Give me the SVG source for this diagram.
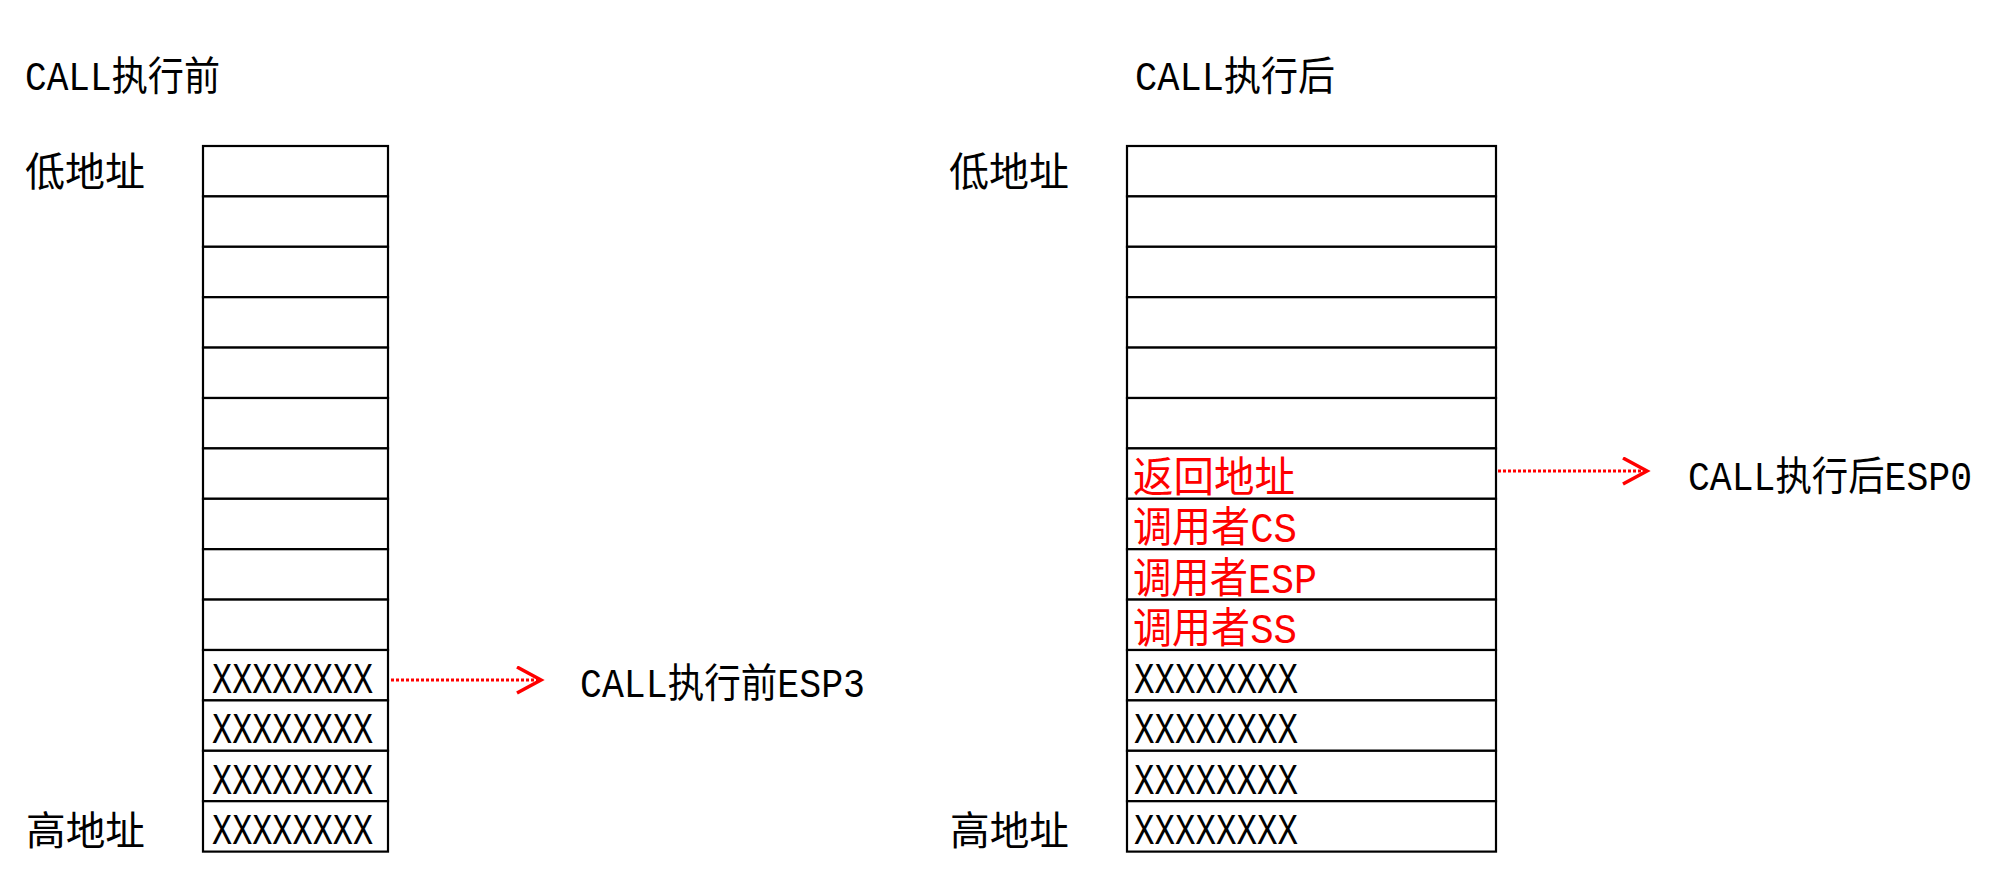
<svg xmlns="http://www.w3.org/2000/svg" width="1993" height="877" viewBox="0 0 1993 877">
<style>
text{font-family:"Liberation Mono","Noto Sans CJK SC",monospace;fill:#000;}
.t{font-size:40px;}
.x{font-size:44px;}
.r{font-size:42px;fill:#f00;}
.cell{fill:#fff;stroke:#000;stroke-width:2.2;}
.link{fill:none;stroke:#f00;stroke-width:3;stroke-dasharray:3 2;}
</style>
<defs>
<marker id="chev" markerUnits="userSpaceOnUse" markerWidth="30" markerHeight="30" refX="25" refY="14" orient="auto">
<path d="M1,1 L25,14 L1,27" fill="none" stroke="#f00" stroke-width="3.5"/>
</marker>
</defs>
<rect width="1993" height="877" fill="#fff"/>

<g id="title-before"><text class="t" x="25" y="90" textLength="195" lengthAdjust="spacingAndGlyphs">CALL执行前</text></g>
<g id="title-after"><text class="t" x="1135" y="90" textLength="200" lengthAdjust="spacingAndGlyphs">CALL执行后</text></g>
<g id="low-left"><text class="t" x="25" y="186" textLength="120" lengthAdjust="spacingAndGlyphs">低地址</text></g>
<g id="high-left"><text class="t" x="26" y="845" textLength="119" lengthAdjust="spacingAndGlyphs">高地址</text></g>
<g id="low-right"><text class="t" x="949" y="186" textLength="120" lengthAdjust="spacingAndGlyphs">低地址</text></g>
<g id="high-right"><text class="t" x="950" y="845" textLength="119" lengthAdjust="spacingAndGlyphs">高地址</text></g>

<g id="stack-before">
<rect class="cell" x="203" y="146" width="185" height="50.4"/>
<rect class="cell" x="203" y="196.4" width="185" height="50.4"/>
<rect class="cell" x="203" y="246.8" width="185" height="50.4"/>
<rect class="cell" x="203" y="297.2" width="185" height="50.4"/>
<rect class="cell" x="203" y="347.6" width="185" height="50.4"/>
<rect class="cell" x="203" y="398" width="185" height="50.4"/>
<rect class="cell" x="203" y="448.4" width="185" height="50.4"/>
<rect class="cell" x="203" y="498.8" width="185" height="50.4"/>
<rect class="cell" x="203" y="549.2" width="185" height="50.4"/>
<rect class="cell" x="203" y="599.6" width="185" height="50.4"/>
<rect class="cell" x="203" y="650" width="185" height="50.4"/>
<rect class="cell" x="203" y="700.4" width="185" height="50.4"/>
<rect class="cell" x="203" y="750.8" width="185" height="50.4"/>
<rect class="cell" x="203" y="801.2" width="185" height="50.4"/>
<text class="x" x="212" y="693" textLength="161" lengthAdjust="spacingAndGlyphs">XXXXXXXX</text>
<text class="x" x="212" y="743.4" textLength="161" lengthAdjust="spacingAndGlyphs">XXXXXXXX</text>
<text class="x" x="212" y="793.8" textLength="161" lengthAdjust="spacingAndGlyphs">XXXXXXXX</text>
<text class="x" x="212" y="844.2" textLength="161" lengthAdjust="spacingAndGlyphs">XXXXXXXX</text>
</g>

<g id="stack-after">
<rect class="cell" x="1127" y="146" width="369" height="50.4"/>
<rect class="cell" x="1127" y="196.4" width="369" height="50.4"/>
<rect class="cell" x="1127" y="246.8" width="369" height="50.4"/>
<rect class="cell" x="1127" y="297.2" width="369" height="50.4"/>
<rect class="cell" x="1127" y="347.6" width="369" height="50.4"/>
<rect class="cell" x="1127" y="398" width="369" height="50.4"/>
<rect class="cell" x="1127" y="448.4" width="369" height="50.4"/>
<rect class="cell" x="1127" y="498.8" width="369" height="50.4"/>
<rect class="cell" x="1127" y="549.2" width="369" height="50.4"/>
<rect class="cell" x="1127" y="599.6" width="369" height="50.4"/>
<rect class="cell" x="1127" y="650" width="369" height="50.4"/>
<rect class="cell" x="1127" y="700.4" width="369" height="50.4"/>
<rect class="cell" x="1127" y="750.8" width="369" height="50.4"/>
<rect class="cell" x="1127" y="801.2" width="369" height="50.4"/>
<text class="r" x="1133" y="492" textLength="162" lengthAdjust="spacingAndGlyphs">返回地址</text>
<text class="r" x="1133" y="542.4" textLength="164" lengthAdjust="spacingAndGlyphs">调用者CS</text>
<text class="r" x="1133" y="592.8" textLength="184" lengthAdjust="spacingAndGlyphs">调用者ESP</text>
<text class="r" x="1133" y="643.2" textLength="164" lengthAdjust="spacingAndGlyphs">调用者SS</text>
<text class="x" x="1134" y="693" textLength="164" lengthAdjust="spacingAndGlyphs">XXXXXXXX</text>
<text class="x" x="1134" y="743.4" textLength="164" lengthAdjust="spacingAndGlyphs">XXXXXXXX</text>
<text class="x" x="1134" y="793.8" textLength="164" lengthAdjust="spacingAndGlyphs">XXXXXXXX</text>
<text class="x" x="1134" y="844.2" textLength="164" lengthAdjust="spacingAndGlyphs">XXXXXXXX</text>
</g>

<g id="esp-before"><text class="t" x="580" y="697" textLength="285" lengthAdjust="spacingAndGlyphs">CALL执行前ESP3</text></g>
<g id="esp-after"><text class="t" x="1688" y="490" textLength="284" lengthAdjust="spacingAndGlyphs">CALL执行后ESP0</text></g>

<g id="connectors">
<line class="link" x1="391" y1="680" x2="541" y2="680" marker-end="url(#chev)"/>
<line class="link" x1="1498" y1="471" x2="1647" y2="471" marker-end="url(#chev)"/>
</g>
</svg>
